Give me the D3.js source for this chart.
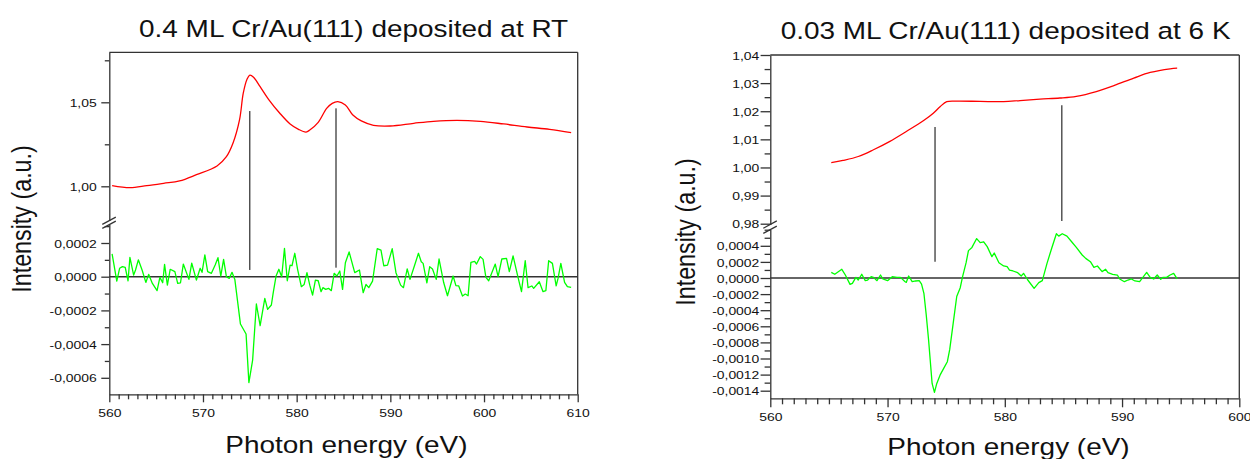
<!DOCTYPE html>
<html><head><meta charset="utf-8">
<script src="https://cdn.jsdelivr.net/npm/d3@7"></script>
<style>
body{margin:0;background:#fff}
svg{display:block}
text{font-family:"Liberation Sans",Arial,Helvetica,sans-serif;fill:#111}
</style>
</head><body>
<svg id="chart" width="1250" height="459"></svg>
<script>
// ---------------- DATA ----------------
const titles = ["0.4 ML Cr/Au(111) deposited at RT", "0.03 ML Cr/Au(111) deposited at 6 K"];
const xLabel = "Photon energy (eV)";
const yLabel = "Intensity (a.u.)";

const xTicksLeft = [560, 570, 580, 590, 600, 610];
const xTicksRight = [560, 570, 580, 590, 600];
const yTicksLeftUpper = [1.00, 1.05];
const yTicksLeftLower = [0.0002, 0.0000, -0.0002, -0.0004, -0.0006];
const yTicksRightUpper = [0.98, 0.99, 1.00, 1.01, 1.02, 1.03, 1.04];
const yTicksRightLower = [0.0004, 0.0002, 0.0000, -0.0002, -0.0004, -0.0006, -0.0008, -0.0010, -0.0012, -0.0014];

// Left: XAS (red)
const leftXasE = [560.3,562.2,564.0,565.8,567.5,569.3,571.5,572.5,573.2,573.9,574.3,574.7,575.0,575.4,576.1,577.0,578.2,579.3,580.2,581.0,581.4,582.3,583.2,583.8,584.4,585.2,586.0,586.9,588.2,590.0,592.5,594.6,597.1,599.6,602.1,604.6,607.0,609.3];
const leftXasI = [1.0004,0.9992,1.0004,1.0018,1.0032,1.0069,1.0121,1.0176,1.0256,1.0395,1.0554,1.0637,1.0662,1.0649,1.0593,1.0518,1.0435,1.0371,1.0339,1.0323,1.0335,1.0381,1.0464,1.0494,1.0504,1.0484,1.0424,1.0389,1.0363,1.0359,1.0375,1.0387,1.0393,1.0387,1.0371,1.0353,1.0339,1.0319];

// Left: XMCD (green)
const leftMcdE = [560.3,560.8,561.1,561.4,561.7,562.0,562.2,562.6,562.8,563.1,
563.5,563.9,564.2,564.6,565.1,565.4,565.7,565.9,566.2,566.5,
567.0,567.3,567.6,567.9,568.5,568.8,569.3,569.7,569.9,570.2,
570.5,570.9,571.3,571.6,571.9,572.2,572.5,572.8,573.1,573.4,
574.0,574.6,574.9,575.3,575.7,576.1,576.6,576.9,577.3,577.5,
577.8,578.1,578.4,578.7,579.0,579.3,579.5,579.8,580.1,580.5,
580.8,581.1,581.4,581.7,582.0,582.3,582.6,582.8,583.1,583.4,
583.7,584.0,584.3,584.6,584.9,585.2,585.6,586.2,586.7,587.1,
587.4,587.7,588.1,588.6,589.0,589.3,589.7,590.2,590.6,591.1,
591.4,591.8,592.1,592.6,593.0,593.3,593.5,593.9,594.2,594.5,
594.9,595.2,595.7,596.1,596.7,597.0,597.3,597.7,598.0,598.3,
598.6,599.0,599.2,599.6,599.9,600.2,600.5,601.2,601.5,601.9,
602.4,602.7,603.1,603.6,604.0,604.4,604.7,605.1,605.3,605.9,
606.3,606.6,606.9,607.3,607.7,607.9,608.2,608.6,608.9,609.3];
const leftMcdI = [1.35e-4,-0.26e-4,0.5e-4,0.6e-4,0.55e-4,-0.24e-4,1.15e-4,0.1e-4,0.4e-4,1.0e-4,
0.4e-4,-0.34e-4,0.14e-4,-0.4e-4,-0.83e-4,-0.04e-4,-0.36e-4,0.73e-4,-0.5e-4,0.44e-4,
0.3e-4,-0.4e-4,-0.36e-4,0.75e-4,-0.16e-4,0.8e-4,-0.2e-4,0.5e-4,0.26e-4,1.29e-4,
0.3e-4,0.2e-4,0.69e-4,1.13e-4,0.04e-4,1.03e-4,0,-0.1e-4,0.26e-4,-0.16e-4,
-2.81e-4,-3.4e-4,-6.28e-4,-4.95e-4,-1.62e-4,-2.91e-4,-1.29e-4,-1.94e-4,-1.68e-4,-0.95e-4,
0.04e-4,0.44e-4,0,1.68e-4,-0.24e-4,0.69e-4,0.65e-4,1.39e-4,0.44e-4,-0.59e-4,
-0.46e-4,0.24e-4,-0.5e-4,-1.09e-4,-0.2e-4,-0.24e-4,-0.89e-4,-0.65e-4,-0.75e-4,-0.69e-4,
-0.83e-4,0.2e-4,0.04e-4,0.34e-4,-0.75e-4,0.83e-4,1.47e-4,0.24e-4,0.4e-4,-0.95e-4,
-0.46e-4,-0.65e-4,-0.26e-4,1.66e-4,1.58e-4,0.65e-4,0.69e-4,1.66e-4,0.24e-4,-0.5e-4,
-0.65e-4,0.46e-4,-0.16e-4,0.69e-4,1.39e-4,0.89e-4,0.79e-4,-0.36e-4,0.59e-4,0.46e-4,
-0.16e-4,1.05e-4,-0.36e-4,-1.13e-4,0.04e-4,-0.53e-4,-0.55e-4,-1.15e-4,-1.03e-4,-1.13e-4,
0.85e-4,0.91e-4,0.75e-4,1.19e-4,1.03e-4,-0.04e-4,-0.24e-4,0.75e-4,0,1.05e-4,
1.09e-4,0.3e-4,1.23e-4,0.04e-4,-0.89e-4,0.95e-4,-0.65e-4,-0.55e-4,-0.69e-4,-0.3e-4,
-0.89e-4,-0.83e-4,0.95e-4,0.79e-4,-0.55e-4,-0.1e-4,0.79e-4,-0.34e-4,-0.59e-4,-0.63e-4];

// Right: XAS (red)
const rightXasE = [565.2,566.2,567.5,568.8,570.2,571.6,573.05,573.9,574.5,575.05,575.9,577.9,579.9,581.3,583.0,584.7,586.1,587.8,589.3,591.0,592.4,594.1,594.7];
const rightXasI = [1.0017,1.0025,1.0039,1.0063,1.0093,1.0128,1.0166,1.0193,1.0217,1.0234,1.0236,1.0235,1.0234,1.0238,1.0243,1.0247,1.0253,1.0270,1.0291,1.0318,1.0338,1.0351,1.0353];

// Right: XMCD (green)
const rightMcdE = [565.2,565.5,566.1,566.4,566.8,567.0,567.3,567.5,567.8,568.1,
568.3,568.6,568.8,569.1,569.4,569.6,570.0,570.4,570.8,571.1,
571.5,571.6,571.8,572.1,572.4,572.7,572.9,573.1,573.3,573.5,
573.8,574.0,574.2,574.5,574.8,575.1,575.3,575.6,575.9,576.2,
576.4,576.7,576.9,577.2,577.6,577.9,578.2,578.5,578.9,579.1,
579.5,579.9,580.2,580.4,580.7,581.1,581.4,581.6,581.96,582.5,
582.9,583.2,583.6,584.0,584.4,584.6,584.9,585.3,585.7,586.1,
586.6,586.9,587.3,587.6,587.9,588.3,588.6,588.8,589.2,589.6,
589.8,590.2,590.5,590.8,591.1,591.5,592.1,592.4,592.7,593.0,
593.3,593.5,593.8,594.1,594.4,594.7];
const rightMcdI = [0.70e-4,0.46e-4,1.08e-4,0.37e-4,-0.79e-4,-0.66e-4,0.08e-4,-0.25e-4,0.46e-4,-0.33e-4,
-0.25e-4,0.17e-4,0.08e-4,-0.33e-4,0.37e-4,-0.12e-4,-0.33e-4,0.17e-4,0.08e-4,0.08e-4,
-0.46e-4,-0.54e-4,0.25e-4,-0.46e-4,-0.37e-4,-0.33e-4,-0.75e-4,-1.9e-4,-4.6e-4,-7.7e-4,
-13.1e-4,-14.2e-4,-13.1e-4,-12.0e-4,-11.2e-4,-10.4e-4,-8.9e-4,-5.6e-4,-2.3e-4,-1.2e-4,
0.17e-4,1.9e-4,3.4e-4,3.8e-4,4.9e-4,4.4e-4,4.5e-4,3.9e-4,2.65e-4,3.1e-4,
1.9e-4,1.5e-4,1.4e-4,0.99e-4,0.87e-4,0.66e-4,0.25e-4,0.58e-4,-0.25e-4,-1.28e-4,
-0.58e-4,-0.33e-4,1.82e-4,3.7e-4,5.5e-4,5.2e-4,5.5e-4,5.2e-4,4.5e-4,3.8e-4,
2.86e-4,2.44e-4,2.03e-4,1.32e-4,1.49e-4,0.79e-4,1.08e-4,0.66e-4,0.46e-4,0.37e-4,
-0.12e-4,-0.46e-4,-0.25e-4,-0.12e-4,-0.37e-4,-0.46e-4,0.70e-4,0.08e-4,-0.12e-4,0.37e-4,
-0.17e-4,0.08e-4,0.08e-4,0.37e-4,0.58e-4,-0.12e-4];

// Marker lines: energy, top value (upper scale), bottom value, panel of bottom value
const leftMarkerE = [575.0, 584.2];
const leftMarkerTop = [1.0448, 1.0464];
const leftMarkerBottom = [0.00004, 0.0000535];
const leftMarkerBottomPanel = ["lower", "lower"];
const rightMarkerE = [574.05, 584.86];
const rightMarkerTop = [1.0144, 1.0221];
const rightMarkerBottom = [0.000202, 0.9810];
const rightMarkerBottomPanel = ["lower", "upper"];

// ---------------- DRAWING ----------------
const SX = 1.2; // horizontal stretch of the original picture's text
const svg = d3.select("#chart");
const loc = d3.formatLocale({decimal: ",", thousands: ".", grouping: [3], currency: ["", ""], minus: "-"});
const AXC = "#333";

function stext(g, x, y, str, size, anchor, rotate) {
  return g.append("text")
    .attr("transform", `translate(${x},${y}) scale(${SX},1)` + (rotate ? " rotate(-90)" : ""))
    .attr("text-anchor", anchor)
    .style("font-size", size + "px")
    .text(str);
}

function range(a, b, step) {
  const out = [];
  const n = Math.round((b - a) / step);
  for (let i = 0; i <= n; i++) out.push(+(a + i * step).toFixed(8));
  return out;
}

function drawPanel(cfg) {
  const g = svg.append("g");
  const x = d3.scaleLinear().domain(cfg.xDomain).range([cfg.left, cfg.right]);
  // upper scale via two anchors, then restricted to visible extent
  const yU0 = d3.scaleLinear().domain(cfg.uAnch).range(cfg.uAnchPx);
  const yU = d3.scaleLinear().domain([yU0.invert(cfg.uBottom), yU0.invert(cfg.top)]).range([cfg.uBottom, cfg.top]);
  const yL0 = d3.scaleLinear().domain(cfg.lAnch).range(cfg.lAnchPx);
  const yL = d3.scaleLinear().domain([yL0.invert(cfg.bottom), yL0.invert(cfg.lTop)]).range([cfg.bottom, cfg.lTop]);

  // frame: top and right borders
  g.append("line").attr("x1", cfg.left).attr("x2", cfg.right).attr("y1", cfg.top).attr("y2", cfg.top)
    .attr("stroke", AXC).attr("stroke-width", 1.3);
  g.append("line").attr("x1", cfg.right).attr("x2", cfg.right).attr("y1", cfg.top).attr("y2", cfg.bottom)
    .attr("stroke", AXC).attr("stroke-width", 1.3);

  // x axis
  const xMin = range(cfg.xDomain[0], cfg.xDomain[1], 1).filter(v => !cfg.xTicks.includes(v));
  const gxm = g.append("g").attr("transform", `translate(0,${cfg.bottom})`)
    .call(d3.axisBottom(x).tickValues(xMin).tickSize(cfg.xMinor).tickSizeOuter(0).tickFormat(""));
  gxm.select(".domain").remove();
  const gx = g.append("g").attr("transform", `translate(0,${cfg.bottom})`)
    .call(d3.axisBottom(x).tickValues(cfg.xTicks).tickSize(cfg.xMajor).tickSizeOuter(0).tickFormat(d3.format("d")));
  gx.selectAll("text").attr("y", cfg.xLabelY).attr("dy", null).attr("transform", `scale(${SX},1)`)
    .style("font-size", "11.6px").style("font-family", '"Liberation Sans",Arial,sans-serif').attr("fill", "#111");
  [gx, gxm].forEach(a => { a.selectAll("line").attr("stroke", AXC).attr("stroke-width", 1.3); a.select(".domain").attr("stroke", AXC).attr("stroke-width", 1.3); });

  // y axes
  function yAxis(scale, majors, minorStep, fmt) {
    const dom = scale.domain();
    const lo = Math.min(dom[0], dom[1]), hi = Math.max(dom[0], dom[1]);
    const start = Math.ceil(lo / minorStep - 1e-6) * minorStep;
    const minors = range(start, hi, minorStep).filter(v => v >= lo - 1e-9 && v <= hi + 1e-9 && !majors.some(m => Math.abs(m - v) < minorStep / 10));
    const gm = g.append("g").attr("transform", `translate(${cfg.left},0)`)
      .call(d3.axisLeft(scale).tickValues(minors).tickSize(cfg.yMinor).tickSizeOuter(0).tickFormat(""));
    gm.select(".domain").remove();
    const ga = g.append("g").attr("transform", `translate(${cfg.left},0)`)
      .call(d3.axisLeft(scale).tickValues(majors).tickSize(cfg.yMajor).tickSizeOuter(0).tickFormat(loc.format(fmt)));
    ga.selectAll("text").attr("x", -cfg.yLabelGap / SX).attr("dy", "0.36em").attr("transform", `scale(${SX},1)`)
      .style("font-size", "11.6px").style("font-family", '"Liberation Sans",Arial,sans-serif').attr("fill", "#111");
    [ga, gm].forEach(a => { a.selectAll("line").attr("stroke", AXC).attr("stroke-width", 1.3); a.select(".domain").attr("stroke", AXC).attr("stroke-width", 1.3); });
  }
  yAxis(yU, cfg.uTicks, cfg.uMinorStep, cfg.uFmt);
  yAxis(yL, cfg.lTicks, cfg.lMinorStep, cfg.lFmt);

  // axis break marks
  [cfg.uBottom, cfg.lTop].forEach(yy => {
    g.append("line").attr("x1", cfg.left - 7).attr("y1", yy + 3.8).attr("x2", cfg.left + 6.5).attr("y2", yy - 3.5)
      .attr("stroke", AXC).attr("stroke-width", 1.2);
  });

  // zero line
  g.append("line").attr("x1", x.range()[0]).attr("x2", x.range()[1]).attr("y1", yL(0)).attr("y2", yL(0))
    .attr("stroke", AXC).attr("stroke-width", 1.4);

  // marker lines
  cfg.mE.forEach((e, i) => {
    const yb = cfg.mPanel[i] === "lower" ? yL(cfg.mBot[i]) : yU(cfg.mBot[i]);
    g.append("line").attr("x1", x(e)).attr("x2", x(e)).attr("y1", yU(cfg.mTop[i])).attr("y2", yb)
      .attr("stroke", cfg.mColor).attr("stroke-width", cfg.mWidth);
  });

  // XAS curve
  const xas = cfg.xasE.map((e, i) => [e, cfg.xasI[i]]);
  g.append("path").datum(xas)
    .attr("d", d3.line().x(d => x(d[0])).y(d => yU(d[1])).curve(d3.curveCatmullRom.alpha(0.5)))
    .attr("fill", "none").attr("stroke", "#ff0000").attr("stroke-width", 1.3);
  // XMCD curve
  const mcd = cfg.mcdE.map((e, i) => [e, cfg.mcdI[i]]);
  g.append("path").datum(mcd)
    .attr("d", d3.line().x(d => x(d[0])).y(d => yL(d[1])))
    .attr("fill", "none").attr("stroke", "#00ff00").attr("stroke-width", 1.3).attr("stroke-linejoin", "round");

  // texts
  stext(g, cfg.titleX, cfg.titleY, cfg.title, 23.3, "middle", false);
  stext(g, cfg.xlabX, cfg.xlabY, xLabel, 23.3, "middle", false);
  stext(g, cfg.ylabX, cfg.ylabY, yLabel, 23.3, "middle", true);
}

drawPanel({
  xDomain: [560, 610], left: 109.3, right: 577.7, top: 52.3, bottom: 394.3,
  uAnch: [1.00, 1.05], uAnchPx: [186.3, 102.3], uBottom: 220.6,
  lAnch: [0, 0.0002], lAnchPx: [276.7, 243.0], lTop: 224.6,
  xTicks: xTicksLeft, uTicks: yTicksLeftUpper, lTicks: yTicksLeftLower,
  uMinorStep: 0.025, lMinorStep: 0.0001, uFmt: ".2f", lFmt: ".4f",
  xMajor: 8, xMinor: 5, yMajor: 8, yMinor: 4.5, xLabelY: 22.3 / 1, yLabelGap: 12.6,
  mE: leftMarkerE, mTop: leftMarkerTop, mBot: leftMarkerBottom, mPanel: leftMarkerBottomPanel, mColor: "#000", mWidth: 1,
  xasE: leftXasE, xasI: leftXasI, mcdE: leftMcdE, mcdI: leftMcdI,
  title: titles[0], titleX: 353.6, titleY: 37,
  xlabX: 346.4, xlabY: 453.4, ylabX: 31, ylabY: 219
});

drawPanel({
  xDomain: [560, 600], left: 770.3, right: 1239.3, top: 55, bottom: 398.3,
  uAnch: [0.98, 1.04], uAnchPx: [223.7, 55], uBottom: 224.4,
  lAnch: [0, 0.0002], lAnchPx: [278, 261.9], lTop: 229.6,
  xTicks: xTicksRight, uTicks: yTicksRightUpper, lTicks: yTicksRightLower,
  uMinorStep: 0.005, lMinorStep: 0.0001, uFmt: ".2f", lFmt: ".4f",
  xMajor: 9, xMinor: 6, yMajor: 9.7, yMinor: 5.7, xLabelY: 23, yLabelGap: 11,
  mE: rightMarkerE, mTop: rightMarkerTop, mBot: rightMarkerBottom, mPanel: rightMarkerBottomPanel, mColor: "#555", mWidth: 1.5,
  xasE: rightXasE, xasI: rightXasI, mcdE: rightMcdE, mcdI: rightMcdI,
  title: titles[1], titleX: 1005.6, titleY: 39.3,
  xlabX: 1008.5, xlabY: 455, ylabX: 695, ylabY: 232
});
</script>
</body></html>
